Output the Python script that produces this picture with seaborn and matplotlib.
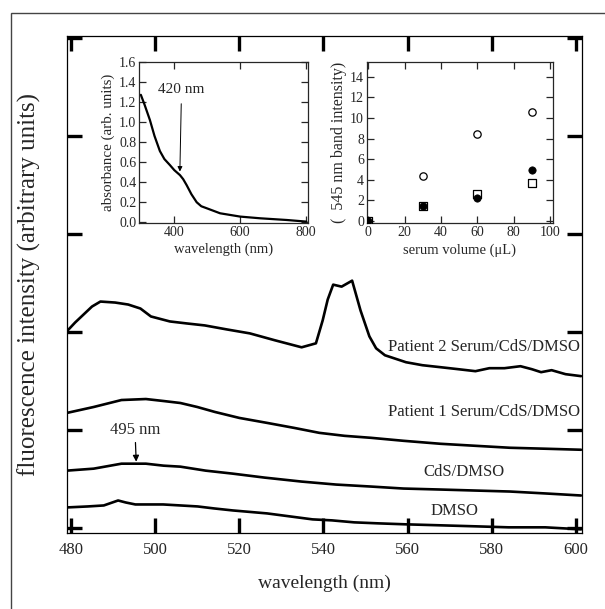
import numpy as np
import pandas as pd
import matplotlib
matplotlib.use("Agg")
import matplotlib.pyplot as plt
from matplotlib.patches import Rectangle
import seaborn as sns

sns.set_style("ticks")
plt.rcParams['font.family'] = ['Liberation Serif', 'DejaVu Serif']
plt.rcParams['mathtext.fontset'] = 'stix'

# ---------------- data (main panel) ----------------
p2_wl = [479, 481, 483, 485, 487.0, 490.5, 493.6, 496.5, 499.0, 503.5, 507.5, 511.8, 517, 522.5,
         528.5, 534.8, 538.2, 539.8, 541.0, 542.3, 544.3, 546.8, 548.8, 550.9, 552.5, 554.6,
         559.6, 563.5, 567.8, 572, 576.1, 579.4, 583, 586.8, 589.5, 591.7, 594.2, 597.5, 601.2]
p2_val = [2.03, 2.12, 2.20, 2.28, 2.33, 2.32, 2.30, 2.26, 2.18, 2.13, 2.11, 2.09, 2.05, 2.01,
          1.94, 1.87, 1.91, 2.14, 2.35, 2.50, 2.48, 2.54, 2.24, 1.98, 1.86, 1.79,
          1.72, 1.69, 1.67, 1.65, 1.63, 1.66, 1.66, 1.68, 1.65, 1.62, 1.64, 1.60, 1.58]

p1_wl = [479, 485.4, 492.0, 497.8, 502, 506.0, 510, 514.2, 520, 526.6, 533, 539.0, 545,
         551.3, 559, 567.8, 576, 584.3, 593, 601.2]
p1_val = [1.21, 1.27, 1.34, 1.35, 1.33, 1.31, 1.27, 1.22, 1.16, 1.11, 1.06, 1.01, 0.98,
          0.96, 0.93, 0.90, 0.88, 0.86, 0.85, 0.84]

cds_wl = [479, 485.4, 492.0, 495.5, 497.8, 502, 506.0, 512, 518.4, 526, 534.8, 543, 551.3,
          559, 567.8, 576, 584.3, 593, 601.2]
cds_val = [0.63, 0.65, 0.70, 0.70, 0.70, 0.68, 0.67, 0.63, 0.60, 0.56, 0.52, 0.49, 0.47,
           0.45, 0.44, 0.43, 0.42, 0.40, 0.38]

dmso_wl = [479, 484, 487.8, 491.2, 493, 495.3, 498, 501.9, 506, 510.1, 514, 518.4, 526.6,
           532, 537.4, 542, 547.3, 553, 559.7, 568, 576.2, 584, 592.7, 601.2]
dmso_val = [0.26, 0.27, 0.28, 0.33, 0.31, 0.29, 0.29, 0.29, 0.28, 0.27, 0.25, 0.23, 0.20,
            0.17, 0.14, 0.13, 0.11, 0.10, 0.09, 0.08, 0.07, 0.06, 0.06, 0.04]

series_names = ["Patient 2 Serum/CdS/DMSO", "Patient 1 Serum/CdS/DMSO", "CdS/DMSO", "DMSO"]
main_xticks = [480, 500, 520, 540, 560, 580, 600]

# ---------------- data (absorbance inset) ----------------
abs_wl = [298.5, 310, 325.9, 340, 356.3, 370, 386.8, 400, 417.3, 427, 437.6, 452, 468,
          482, 498.5, 539, 600, 661, 742, 801]
abs_val = [1.27, 1.17, 1.02, 0.86, 0.71, 0.63, 0.57, 0.52, 0.47, 0.43, 0.37, 0.28, 0.20,
           0.16, 0.14, 0.09, 0.057, 0.04, 0.023, 0.007]

# ---------------- data (serum inset) ----------------
serum_vol = [0, 30, 60, 90]
open_circle = [0, 4.4, 8.4, 10.6]
filled_circle = [0, 1.5, 2.2, 5.0]
open_square = [0, 1.5, 2.6, 3.7]

# ---------------- figure ----------------
fig = plt.figure(figsize=(6.05, 6.09), dpi=100)
fig.patches.append(Rectangle((0.0182, -0.05), 1.2, 1.0287, transform=fig.transFigure,
                             fill=False, edgecolor='#444444', linewidth=1.0))

ax = fig.add_axes([0.1107, 0.1243, 0.8508, 0.8166])
for wl, val in [(p2_wl, p2_val), (p1_wl, p1_val), (cds_wl, cds_val), (dmso_wl, dmso_val)]:
    sns.lineplot(x=wl, y=val, ax=ax, color='black', linewidth=1.9, sort=False)

ax.set_xlim(479.05, 601.35)
ax.set_ylim(0, 5.0)
ax.set_xticks(main_xticks)
ax.set_xticklabels([str(t) for t in main_xticks])
ax.set_yticks([0.053, 1.038, 2.023, 3.008, 3.993, 4.977])
ax.set_yticklabels([])
ax.tick_params(axis='both', direction='in', length=11, width=2.4, top=True, right=True,
               labelsize=12, pad=6, color='black')
for s in ax.spines.values():
    s.set_linewidth(0.9)
    s.set_color('black')
ax.set_xlabel("wavelength (nm)", fontsize=14, labelpad=12.5)
ax.set_ylabel("fluorescence intensity (arbitrary units)", fontsize=18)
ax.yaxis.set_label_coords(-0.05, 0.5)

ax.text(600.95, 1.875, series_names[0], ha='right', va='center', fontsize=12)
ax.text(600.95, 1.22, series_names[1], ha='right', va='center', fontsize=12)
ax.text(573.3, 0.62, series_names[2], ha='center', va='center', fontsize=12)
ax.text(571.2, 0.22, series_names[3], ha='center', va='center', fontsize=12)
ax.annotate("495 nm", xy=(495.5, 0.72), xytext=(495.2, 1.04), ha='center', va='center',
            fontsize=12,
            arrowprops=dict(arrowstyle='-|>', color='black', lw=0.9, mutation_scale=9,
                            shrinkA=1, shrinkB=0))

# ---------------- inset 1: absorbance ----------------
ax1 = fig.add_axes([0.2298, 0.6338, 0.2793, 0.2649])
ax1.set_facecolor('white')
sns.lineplot(x=abs_wl, y=abs_val, ax=ax1, color='black', linewidth=1.6, sort=False)
ax1.set_xlim(293, 806)
ax1.set_ylim(-0.007, 1.6)
ax1.set_xticks([400, 600, 800])
ax1.set_yticks(np.round(np.arange(0, 1.61, 0.2), 1))
ax1.set_yticklabels([f"{v:.1f}" for v in np.arange(0, 1.61, 0.2)])
ax1.tick_params(axis='both', direction='in', length=5, width=0.9, top=True, right=True,
                labelsize=10, pad=2)
for s in ax1.spines.values():
    s.set_linewidth(0.9)
ax1.set_xlabel("wavelength (nm)", fontsize=10.5, labelpad=3)
ax1.set_ylabel("absorbance (arb. units)", fontsize=10.8, labelpad=3)
ax1.annotate("420 nm", xy=(417, 0.506), xytext=(422, 1.32), ha='center', va='center',
             fontsize=11,
             arrowprops=dict(arrowstyle='-|>', color='black', lw=0.7, mutation_scale=7,
                             shrinkA=3, shrinkB=0))

# ---------------- inset 2: serum volume ----------------
ax2 = fig.add_axes([0.6061, 0.6333, 0.3084, 0.2644])
ax2.set_facecolor('white')
sns.scatterplot(x=serum_vol, y=open_circle, ax=ax2, marker='o', s=28, facecolor='white',
                edgecolor='black', linewidth=0.9, zorder=3)
sns.scatterplot(x=serum_vol, y=open_square, ax=ax2, marker='s', s=26, facecolor='white',
                edgecolor='black', linewidth=0.9, zorder=3)
sns.scatterplot(x=serum_vol, y=filled_circle, ax=ax2, marker='o', s=28, color='black',
                edgecolor='black', linewidth=0.5, zorder=4)
ax2.set_xlim(-0.9, 101.8)
ax2.set_ylim(-0.22, 15.4)
ax2.set_xticks([0, 20, 40, 60, 80, 100])
ax2.set_yticks([0, 2, 4, 6, 8, 10, 12, 14])
ax2.tick_params(axis='both', direction='in', length=5, width=0.9, top=True, right=True,
                labelsize=10, pad=2)
for s in ax2.spines.values():
    s.set_linewidth(0.9)
ax2.set_xlabel("serum volume (μL)", fontsize=10.5, labelpad=3)
ax2.set_ylabel("(  545 nm band intensity)", fontsize=11.5, labelpad=2)

fig.savefig("out.png", dpi=100)
